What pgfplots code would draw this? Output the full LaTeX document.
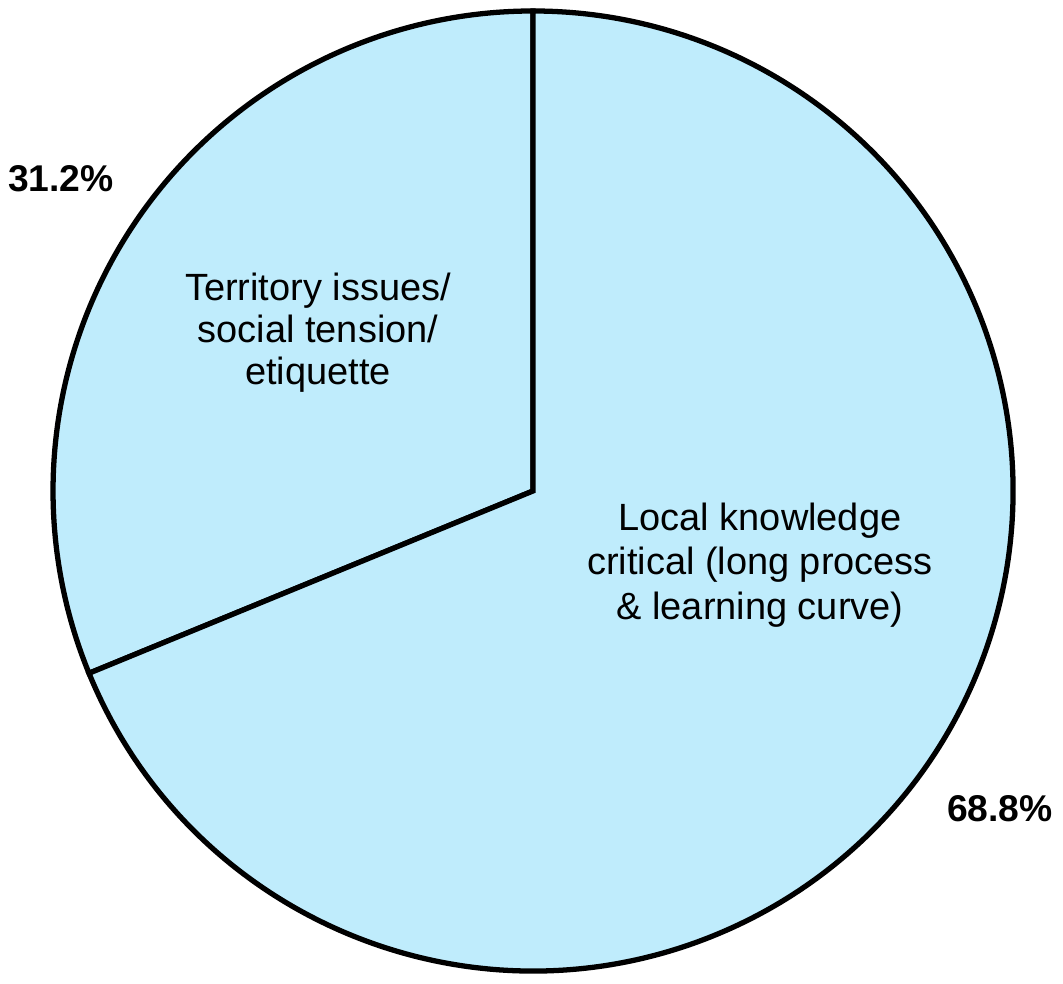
\documentclass[border=0pt]{standalone}
\usepackage{pgfplots}
\usepackage{pgfplotstable}
\usepackage{fontspec}
\setmainfont{Liberation Sans}
\pgfplotsset{compat=1.18}

\definecolor{piefill}{RGB}{191,236,252}

% share of answers, in percent
\pgfplotstableread{
label share
territory 31.2
local 68.8
}\piedata

\begin{document}
\begin{tikzpicture}[font=\fontsize{10.8}{12.0}\selectfont]
  \pgfplotstablegetelem{0}{share}\of\piedata
  \pgfmathsetmacro\angB{90+3.6*\pgfplotsretval}
  \begin{axis}[
      x=1cm, y=1cm,
      scale only axis,
      xmin=-5.33, xmax=5.30,
      ymin=-4.93, ymax=4.91,
      hide axis,
      clip=false,
    ]
    \coordinate (bl) at (axis cs:-5.33,-4.93);
    \coordinate (tr) at (axis cs:5.30,4.91);
    \coordinate (o) at (axis cs:0,0);
    \draw[fill=piefill, line width=1.5pt, line join=miter]
      (o) -- ++(90:4.8cm) arc[start angle=90, end angle=\angB, radius=4.8cm] -- cycle;
    \draw[fill=piefill, line width=1.5pt, line join=miter]
      (o) -- ++(\angB:4.8cm) arc[start angle=\angB, end angle=450, radius=4.8cm] -- cycle;

    \node[align=center] at (axis cs:-2.15,1.58) {Territory issues/\\social tension/\\etiquette};
    \node[align=center, font=\fontsize{10.8}{12.6}\selectfont] at (axis cs:2.27,-0.74) {Local knowledge\\critical (long process\\\& learning curve)};
    \node[font=\fontsize{10.6}{12}\selectfont\bfseries] at (axis cs:-4.72,3.12) {31.2\%};
    \node[font=\fontsize{10.6}{12}\selectfont\bfseries] at (axis cs:4.67,-3.18) {68.8\%};
  \end{axis}
  \pgfresetboundingbox
  \path[use as bounding box] (bl) rectangle (tr);
\end{tikzpicture}
\end{document}
